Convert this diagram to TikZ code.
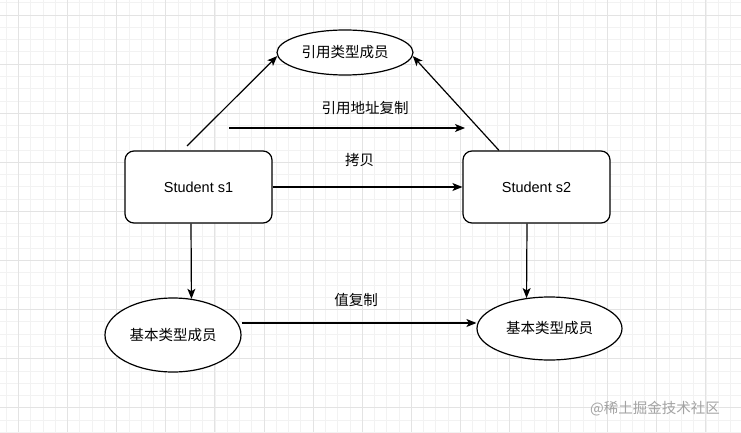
\documentclass[tikz,border=0pt]{standalone}
\usepackage{fontspec}
\setmainfont{Liberation Sans}
\newfontfamily\cjk{Noto Sans CJK SC}
\usetikzlibrary{arrows.meta,shapes.geometric}
\definecolor{gridminor}{HTML}{F2F2F2}
\definecolor{gridmajor}{HTML}{E3E3E3}
\definecolor{wmgray}{HTML}{A3A3A3}
\tikzset{
  ell/.style={ellipse, draw, line width=1.2pt, fill=white, inner sep=0pt,
    font=\cjk\fontsize{14.5}{17}\selectfont},
  stubox/.style={rectangle, rounded corners=9pt, draw, line width=1.2pt, fill=white,
    minimum width=147pt, minimum height=72pt, font=\fontsize{14.5}{17}\selectfont},
  arr/.style={-{Stealth[length=10pt,width=8pt,inset=2.5pt]}, line width=1.2pt},
  lbl/.style={font=\cjk\fontsize{14.5}{17}\selectfont, inner sep=0pt}
}
\begin{document}
\begin{tikzpicture}[x=1pt,y=1pt]
\useasboundingbox (0,0) rectangle (741,432);
\fill[white] (0,0) rectangle (741,432);
\begin{scope}
\clip (0,0) rectangle (741,432);
\foreach \i in {0,...,62} {
  \pgfmathsetmacro\xx{18.5+12.275*(\i-1)}
  \draw[gridminor,line width=0.8pt] (\xx,0) -- (\xx,432);
}
\foreach \j in {0,...,37} {
  \pgfmathsetmacro\yy{432-15-12.275*(\j-1)}
  \draw[gridminor,line width=0.8pt] (0,\yy) -- (741,\yy);
}
\foreach \i in {0,...,16} {
  \pgfmathsetmacro\xx{18.5+49.1*(\i-1)}
  \draw[gridmajor,line width=0.9pt] (\xx,0) -- (\xx,432);
}
\foreach \j in {0,...,10} {
  \pgfmathsetmacro\yy{432-15-49.1*(\j-1)}
  \draw[gridmajor,line width=0.9pt] (0,\yy) -- (741,\yy);
}
\end{scope}

\node[ell, minimum width=136pt, minimum height=45pt] (top) at (345,379.5) {引用类型成员};
\node[stubox] (s1) at (198.5,245) {Student s1};
\node[stubox] (s2) at (536.5,245) {Student s2};
\node[ell, minimum width=136pt, minimum height=74pt] (bl) at (173,97) {基本类型成员};
\node[ell, minimum width=145pt, minimum height=63pt] (br) at (549.5,103.5) {基本类型成员};

\coordinate (a1) at (187,286);
\coordinate (r1) at (229,304);
\coordinate (r2) at (465,304);

\draw[arr] (a1) -- (top.183);
\draw[arr] ([xshift=-37.5pt]s2.north) -- (top.-3);
\draw[arr] (r1) -- (r2);
\node[lbl] (lref) at (365,324) {引用地址复制};
\draw[arr] (s1.east) -- (s2.west);
\node[lbl] (lcopy) at (359.5,272) {拷贝};
\draw[arr] ([xshift=-7.5pt]s1.south) -- (bl.63);
\draw[arr] ([xshift=-9.5pt]s2.south) -- (br.127);
\draw[arr] ([yshift=12pt]bl.east) -- ([yshift=5.5pt]br.west);
\node[lbl] (lval) at (356,132) {值复制};

\node[font=\cjk\fontsize{14.5}{17}\selectfont, text=wmgray, inner sep=0pt] (wm) at (655,23) {@稀土掘金技术社区};
\end{tikzpicture}
\end{document}
